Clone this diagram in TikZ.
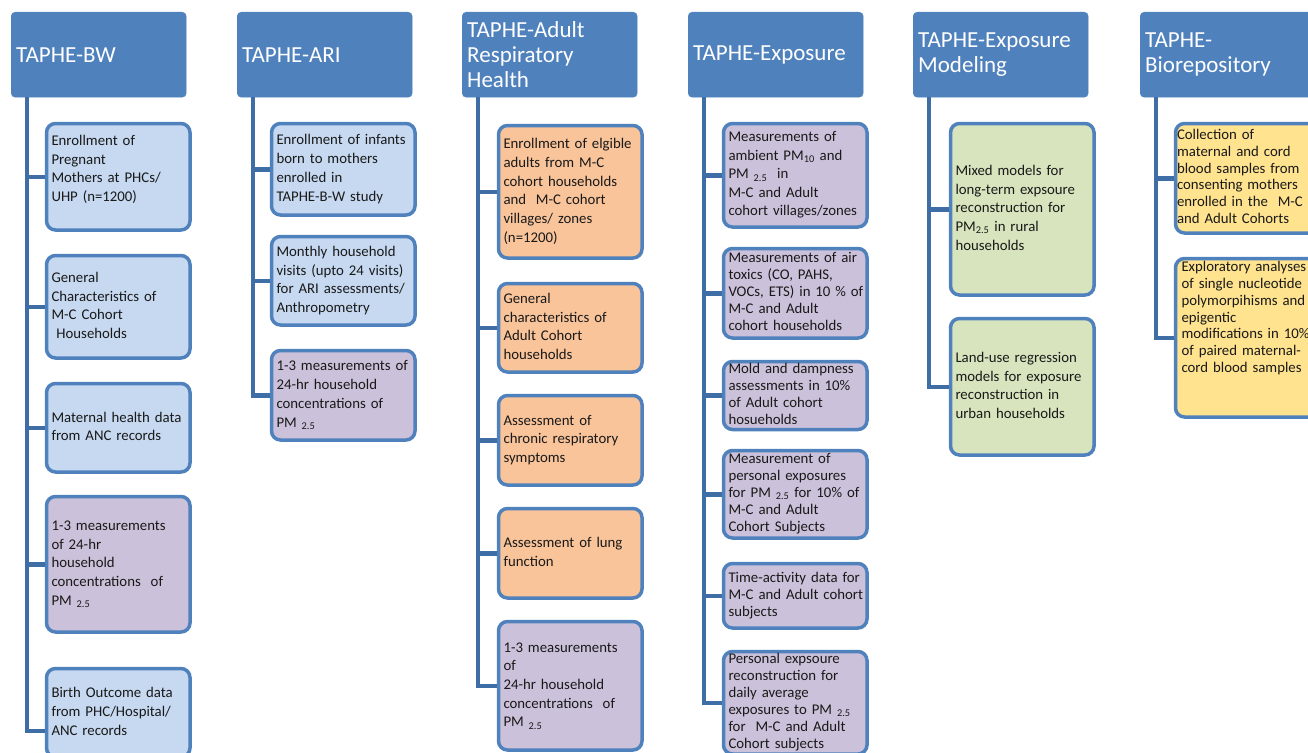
\documentclass[tikz,border=0pt]{standalone}
\usepackage{fontspec}
\setmainfont{Carlito}
\usetikzlibrary{calc}
\definecolor{hdr}{HTML}{4F81BD}
\definecolor{bdr}{HTML}{4F81BD}
\definecolor{conncol}{HTML}{3F6DA6}
\definecolor{fblue}{HTML}{C6D9F1}
\definecolor{fpurple}{HTML}{CCC1DA}
\definecolor{forange}{HTML}{F9C49A}
\definecolor{fgreen}{HTML}{D7E4BD}
\definecolor{fyellow}{HTML}{FFE38F}
\newcommand\boxlines[1]{\begin{tabular}{@{}l@{}}#1\end{tabular}}
\begin{document}
\begin{tikzpicture}[x=1pt,y=-1pt,
  hdrbox/.style={fill=hdr, draw=hdr, rounded corners=4pt, anchor=north west,
    minimum height=85pt, text width=165pt, inner xsep=5pt, inner ysep=0pt, align=left,
    text=white, font=\fontsize{23}{25}\selectfont},
  bx/.style={draw=bdr, line width=3.5pt, rounded corners=9pt, anchor=north west,
    text width=133.5pt, inner xsep=5pt, inner ysep=0pt, align=left,
    font=\fontsize{14.8}{18.7}\selectfont, text=black!90},
  tight/.style={font=\fontsize{14.8}{17}\selectfont},
  conn/.style={draw=conncol, line width=4.5pt, line join=miter}]
\useasboundingbox (0,0) rectangle (1308,752);
\clip (0,0) rectangle (1308,752);
\fill[white] (0,0) rectangle (1308,752);

% headers
\node[hdrbox] (h1) at (11,12) {TAPHE-BW};
\node[hdrbox] (h2) at (237,12) {TAPHE-ARI};
\node[hdrbox] (h3) at (462,12) {TAPHE-Adult\\Respiratory\\Health};
\node[hdrbox] (h4) at (688,12) {TAPHE-Exposure};
\node[hdrbox] (h5) at (913,12) {TAPHE-Exposure\\Modeling};
\node[hdrbox] (h6) at (1140,12) {TAPHE-\\Biorepository};

\foreach \i in {1,...,6} {\coordinate (t\i) at ($(h\i.south west)+(16,0)$);}

% column 1
\node[bx, fill=fblue, minimum height=106.5pt] (b11) at (44.75,121.75) {\boxlines{Enrollment of\\Pregnant\\Mothers at PHCs/\\UHP (n=1200)\\[14pt]}};
\node[bx, fill=fblue, minimum height=102.5pt] (b12) at (44.75,253.75) {\boxlines{General\\Characteristics of\\M-C Cohort\\\ Households}};
\node[bx, fill=fblue, minimum height=88.5pt] (b13) at (44.75,381.75) {\boxlines{Maternal health data\\from ANC records}};
\node[bx, fill=fpurple, minimum height=135.5pt] (b14) at (44.75,494.75) {\boxlines{1-3 measurements\\of 24-hr\\household\\concentrations\ \ of\\PM \textsubscript{2.5}}};
\node[bx, fill=fblue, minimum height=88.5pt] (b15) at (44.75,666.75) {\boxlines{Birth Outcome data\\from PHC/Hospital/\\ANC records}};

% column 2
\node[bx, fill=fblue, minimum height=91.5pt] (b21) at (269.75,121.75) {\boxlines{Enrollment of infants\\born to mothers\\enrolled in\\TAPHE-B-W study}};
\node[bx, fill=fblue, minimum height=88.5pt] (b22) at (269.75,234.75) {\boxlines{Monthly household\\visits (upto 24 visits)\\for ARI assessments/\\Anthropometry}};
\node[bx, fill=fpurple, minimum height=89.5pt] (b23) at (269.75,348.75) {\boxlines{1-3 measurements of\\24-hr household\\concentrations of\\PM \textsubscript{2.5}}};

% column 3
\node[bx, fill=forange, minimum height=132.5pt] (b31) at (496.75,123.75) {\boxlines{Enrollment of elgible\\adults from M-C\\cohort households\\and\ \ M-C cohort\\villages/ zones\\(n=1200)}};
\node[bx, fill=forange, minimum height=88.5pt] (b32) at (496.75,281.75) {\boxlines{General\\characteristics of\\Adult Cohort\\households}};
\node[bx, fill=forange, minimum height=89.5pt] (b33) at (496.75,393.75) {\boxlines{Assessment of\\chronic respiratory\\symptoms}};
\node[bx, fill=forange, minimum height=89.5pt] (b34) at (496.75,506.75) {\boxlines{Assessment of lung\\function}};
\node[bx, fill=fpurple, minimum height=128.5pt] (b35) at (496.75,619.75) {\boxlines{1-3 measurements\\of\\24-hr household\\concentrations\ \ of\\PM \textsubscript{2.5}}};

% column 4
\node[bx, fill=fpurple, minimum height=103.5pt, font=\fontsize{14.8}{18.5}\selectfont] (b41) at (721.75,121.75) {\boxlines{Measurements of\\ambient PM\textsubscript{10} and\\PM \textsubscript{2.5}\ \ in\\M-C and Adult\\cohort villages/zones}};
\node[bx, fill=fpurple, minimum height=89.5pt, tight] (b42) at (721.75,246.75) {\boxlines{Measurements of air\\toxics (CO, PAHS,\\VOCs, ETS) in 10 \% of\\M-C and Adult\\cohort households}};
\node[bx, fill=fpurple, minimum height=65.5pt, tight] (b43) at (721.75,359.75) {\boxlines{Mold and dampness\\assessments in 10\%\\of Adult cohort\\hosueholds}};
\node[bx, fill=fpurple, minimum height=87.5pt, tight] (b44) at (721.75,448.75) {\boxlines{Measurement of\\personal exposures\\for PM \textsubscript{2.5} for 10\% of\\M-C and Adult\\Cohort Subjects}};
\node[bx, fill=fpurple, minimum height=64.5pt, tight] (b45) at (721.75,561.75) {\boxlines{Time-activity data for\\M-C and Adult cohort\\subjects}};
\node[bx, fill=fpurple, minimum height=102.5pt, tight] (b46) at (721.75,649.75) {\boxlines{Personal expsoure\\reconstruction for\\daily average\\exposures to PM \textsubscript{2.5}\\for\ \ M-C and Adult\\Cohort subjects}};

% column 5
\node[bx, fill=fgreen, minimum height=171.5pt] (b51) at (948.75,121.75) {\boxlines{Mixed models for\\long-term expsoure\\reconstruction for\\PM\textsubscript{2.5} in rural\\households}};
\node[bx, fill=fgreen, minimum height=136.5pt] (b52) at (948.75,316.75) {\boxlines{Land-use regression\\models for exposure\\reconstruction in\\urban households}};

% column 6
\node[bx, fill=fyellow, minimum height=109.5pt, font=\fontsize{14.8}{16.7}\selectfont, inner xsep=1.5pt, text width=140.5pt] (b61) at (1173.75,121.75) {\boxlines{Collection of\\maternal and cord\\blood samples from\\consenting mothers\\enrolled in the\ \ M-C\\and Adult Cohorts}};
\node[bx, fill=fyellow, minimum height=158.5pt, font=\fontsize{14.8}{16.7}\selectfont, inner xsep=6pt, text width=131.5pt] (b62) at (1173.75,256.75) {\boxlines{Exploratory analyses\\of single nucleotide\\polymorpihisms and\\epigentic\\modifications in 10\%\\of paired maternal-\\cord blood samples\\[38pt]}};

% connectors
\foreach \b in {b11,b12,b13,b14} {\draw[conn] (t1) |- (\b.west);}
\draw[conn] (t1) |- ($(b15.west)+(0,18)$);
\foreach \b in {b21,b22,b23} {\draw[conn] (t2) |- (\b.west);}
\foreach \b in {b31,b32,b33,b34,b35} {\draw[conn] (t3) |- (\b.west);}
\foreach \b in {b41,b42,b43,b44,b45,b46} {\draw[conn] (t4) |- (\b.west);}
\foreach \b in {b51,b52} {\draw[conn] (t5) |- (\b.west);}
\foreach \b in {b61,b62} {\draw[conn] (t6) |- (\b.west);}
\end{tikzpicture}
\end{document}
